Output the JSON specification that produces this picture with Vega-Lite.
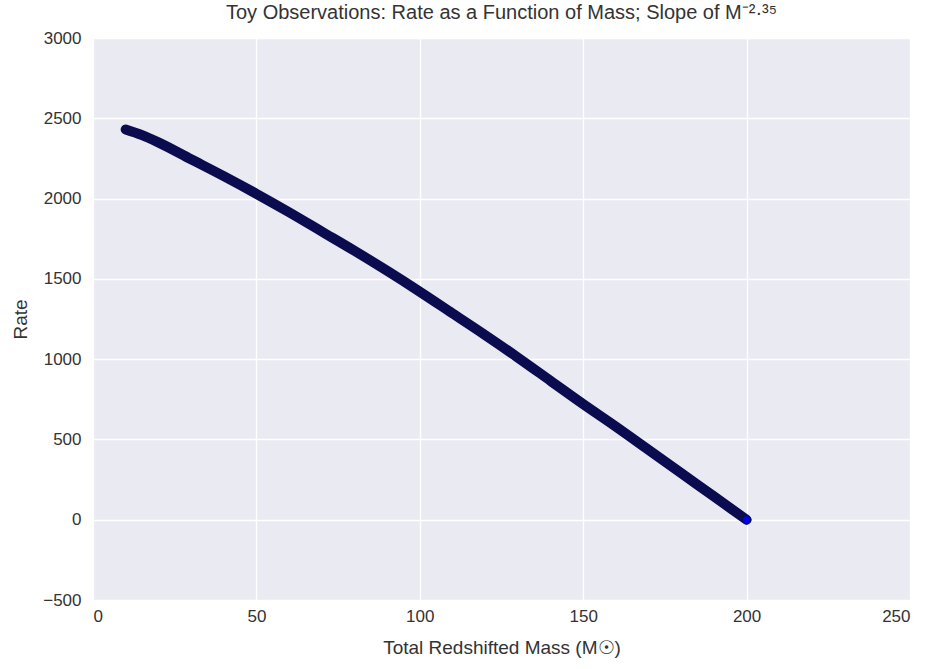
{
  "$schema": "https://vega.github.io/schema/vega-lite/v6.json",
  "autosize": "none",
  "padding": {"left": 93, "top": 38, "right": 20, "bottom": 69},
  "width": 817,
  "height": 562,
  "background": "white",
  "config": {
    "view": {"fill": "#EAEAF2", "stroke": null},
    "font": "Liberation Sans",
    "axis": {
      "grid": true, "gridColor": "white", "gridWidth": 1.3,
      "domain": false, "ticks": false,
      "labelFont": "Liberation Sans", "labelFontSize": 17, "labelColor": "#333333",
      "titleFont": "Liberation Sans", "titleFontSize": 19, "titleColor": "#333333", "titleFontWeight": "normal"
    }
  },
  "title": {
    "text": "Toy Observations: Rate as a Function of Mass; Slope of M⁻²·³⁵",
    "font": "Liberation Sans", "fontSize": 20, "fontWeight": "normal", "color": "#333333", "offset": 6
  },
  "data": {
    "values": [
      {"mass": 10, "rate": 2430},
      {"mass": 15, "rate": 2395},
      {"mass": 20, "rate": 2350},
      {"mass": 30, "rate": 2245},
      {"mass": 40, "rate": 2140},
      {"mass": 50, "rate": 2030},
      {"mass": 60, "rate": 1915},
      {"mass": 70, "rate": 1795},
      {"mass": 80, "rate": 1675},
      {"mass": 90, "rate": 1550},
      {"mass": 100, "rate": 1420},
      {"mass": 110, "rate": 1285},
      {"mass": 120, "rate": 1150},
      {"mass": 130, "rate": 1010},
      {"mass": 140, "rate": 865},
      {"mass": 150, "rate": 720},
      {"mass": 160, "rate": 580},
      {"mass": 170, "rate": 435},
      {"mass": 180, "rate": 290},
      {"mass": 190, "rate": 145},
      {"mass": 200, "rate": 0}
    ]
  },
  "layer": [
    {
      "mark": {"type": "line", "color": "#0b0b4f", "strokeWidth": 10, "strokeCap": "round", "strokeJoin": "round", "interpolate": "monotone"},
      "encoding": {
        "x": {"field": "mass", "type": "quantitative", "scale": {"domain": [0, 250], "nice": false}, "axis": {"values": [0, 50, 100, 150, 200, 250], "format": "d", "title": "Total Redshifted Mass (M☉)", "labelPadding": 8, "titlePadding": 14}},
        "y": {"field": "rate", "type": "quantitative", "scale": {"domain": [-500, 3000], "nice": false}, "axis": {"values": [-500, 0, 500, 1000, 1500, 2000, 2500, 3000], "format": "d", "title": "Rate", "labelPadding": 12, "titlePadding": 12}}
      }
    },
    {
      "transform": [{"filter": "datum.mass == 200"}],
      "mark": {"type": "point", "filled": true, "color": "#0000ee", "stroke": "#0b0b4f", "strokeWidth": 1, "size": 70, "opacity": 1},
      "encoding": {
        "x": {"field": "mass", "type": "quantitative"},
        "y": {"field": "rate", "type": "quantitative"}
      }
    }
  ]
}
